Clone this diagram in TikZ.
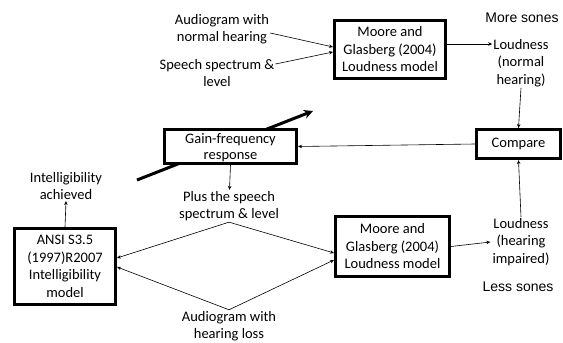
\documentclass[tikz,border=0pt]{standalone}
\usepackage{fontspec}
\setmainfont{Carlito}
\newfontfamily\arialfont{Liberation Sans}
\usetikzlibrary{arrows.meta}

\begin{document}
\begin{tikzpicture}[x=1pt, y=-1pt, font=\fontsize{14.5}{17.5}\selectfont,
		txt/.style={align=center, inner sep=1pt},
		box/.style={draw, line width=3pt, fill=white, align=center, inner sep=0pt},
		link/.style={line width=0.6pt, -{Stealth[length=4pt, width=3.5pt]}},
		plain/.style={line width=0.6pt}]
		\useasboundingbox (0, 0) rectangle (563, 343);

		% top row
		\node[txt] (audnorm) at (222, 29) {Audiogram with\\normal hearing};
		\node[txt] (spnorm) at (217, 73) {Speech spectrum \&\\level};
		\node[box, minimum width=111, minimum height=58] (moorea) at (390, 49.5) {Moore and\\Glasberg (2004)\\Loudness model};
		\node[txt] (loudnorm) at (521, 63) {Loudness\\(normal\\hearing)};
		\node[txt, font=\arialfont\fontsize{14}{17}\selectfont] (more) at (522, 18) {More sones};

		% middle row
		\draw[line width=3pt, -{Stealth[length=9pt, width=9pt]}] (137, 180) -- (313, 111);
		\node[box, minimum width=132, minimum height=34] (gain) at (230.5, 146.5)
			{\raisebox{-5pt}[0pt][0pt]{\begin{tabular}{@{}c@{}}Gain-frequency\\[-1pt]response\end{tabular}}};
		\node[box, minimum width=84, minimum height=29] (compare) at (518.5, 144) {Compare};
		\node[txt] (plus) at (229, 206) {Plus the speech\\spectrum \& level};
		\node[txt] (intel) at (66, 186) {Intelligibility\\achieved};

		% bottom row
		\node[box, minimum width=101, minimum height=76] (ansi) at (65, 266.5) {ANSI S3.5\\(1997)R2007\\Intelligibility\\model};
		\node[box, minimum width=114, minimum height=60] (mooreb) at (392.5, 246.5) {Moore and\\Glasberg (2004)\\Loudness model};
		\node[txt] (loudimp) at (521, 242) {Loudness\\(hearing\\impaired)};
		\node[txt, font=\arialfont\fontsize{14}{17}\selectfont] (less) at (518, 287) {Less sones};
		\node[txt] (audloss) at (229, 326) {Audiogram with\\hearing loss};

		% connectors
		\draw[link] ([yshift=-4]audnorm.east) -- ([yshift=2.5]moorea.west);
		\draw[link] ([yshift=9]spnorm.east) -- ([yshift=-2.5]moorea.west);
		\draw[link] ([yshift=5.5]moorea.east) -- ([yshift=19]loudnorm.west);
		\draw[link] (loudnorm.south) -- (compare.north);
		\draw[link] (loudimp.north) -- (compare.south);
		\draw[link] (compare.west) -- (gain.east);
		\draw[link] (gain.south) -- ([xshift=0.5]plus.north);
		\draw[link] (ansi.north) -- (intel.south);
		\draw[link] (plus.south) -- ([yshift=8.5]ansi.east);
		\draw[link] (plus.south) -- ([yshift=-6.5]mooreb.west);
		\draw[link] (audloss.north) -- ([yshift=-0.5]ansi.east);
		\draw[link] (audloss.north) -- ([yshift=-13.5]mooreb.west);
		\draw[link] (mooreb.east) -- ([xshift=-1]loudimp.west);
\end{tikzpicture}
\end{document}
